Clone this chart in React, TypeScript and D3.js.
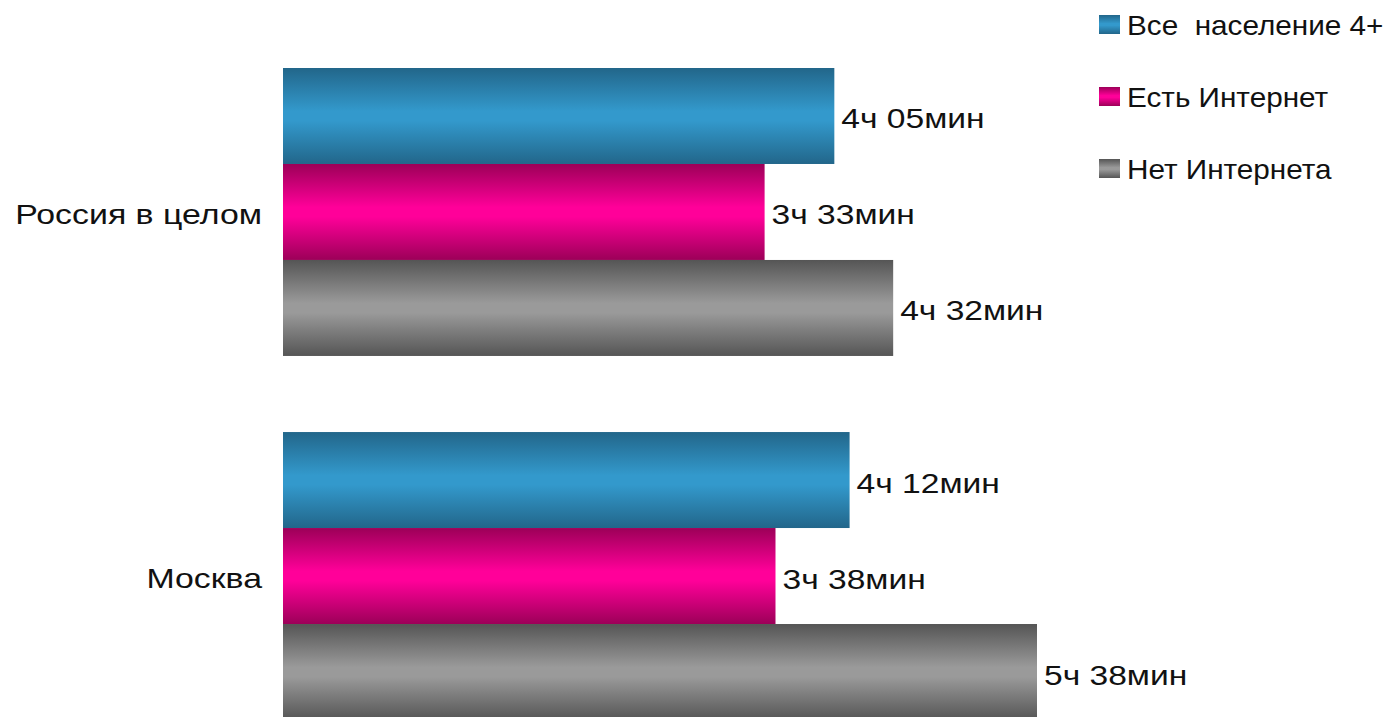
import React from "react";
import * as d3 from "d3";

const categories = ["Россия в целом", "Москва"];
const seriesNames = ["Все  население 4+", "Есть Интернет", "Нет Интернета"];
// minutes
const allPopulation = [245, 252];
const withInternet = [213, 218];
const noInternet = [272, 338];
const valueLabels = [
  ["4ч 05мин", "3ч 33мин", "4ч 32мин"],
  ["4ч 12мин", "3ч 38мин", "5ч 38мин"],
];
const axisDomain = [-8, 338];

const W = 1395;
const H = 717;
const colors = [
  { dark: "#22668a", light: "#3399cc" },
  { dark: "#9c0058", light: "#ff0099" },
  { dark: "#555555", light: "#9a9a9a" },
];

export default function App() {
  const series = [allPopulation, withInternet, noInternet];
  const x = d3.scaleLinear().domain(axisDomain).range([283, 1037]);
  const x0 = x.range()[0];
  const y0 = d3.scaleBand<string>().domain(categories).range([68, 720]).paddingInner(0.209).paddingOuter(0);
  const y1 = d3.scaleBand<string>().domain(seriesNames).range([0, y0.bandwidth()]);
  const font = "'Liberation Sans', Arial, sans-serif";
  const sx = (ax: number, k: number) => `translate(${ax},0) scale(${k},1) translate(${-ax},0)`;
  return (
    <svg width={W} height={H} style={{ position: "absolute", left: 0, top: 0, background: "#fff" }}>
      <defs>
        {colors.map((c, i) => (
          <linearGradient key={i} id={`g${i}`} x1="0" y1="0" x2="0" y2="1">
            <stop offset="0" stopColor={c.dark} />
            <stop offset="0.45" stopColor={c.light} />
            <stop offset="0.55" stopColor={c.light} />
            <stop offset="1" stopColor={c.dark} />
          </linearGradient>
        ))}
      </defs>
      {categories.map((cat, ci) => {
        const gy = y0(cat)!;
        return (
          <g key={cat}>
            <text
              x={262}
              y={gy + y0.bandwidth() / 2 + 3}
              textAnchor="end"
              dominantBaseline="central"
              fontFamily={font}
              fontSize={28}
              fill="#111"
              transform={sx(262, 1.21)}
            >
              {cat}
            </text>
            {seriesNames.map((s, si) => {
              const by = gy + y1(s)!;
              const v = series[si][ci];
              return (
                <g key={s}>
                  <rect x={x0} y={by} width={x(v) - x0} height={y1.bandwidth()} fill={`url(#g${si})`} />
                  <text
                    x={x(v) + 7}
                    y={by + y1.bandwidth() / 2 + 3}
                    dominantBaseline="central"
                    fontFamily={font}
                    fontSize={28}
                    fill="#111"
                    transform={sx(x(v) + 7, 1.2)}
                  >
                    {valueLabels[ci][si]}
                  </text>
                </g>
              );
            })}
          </g>
        );
      })}
      {seriesNames.map((s, si) => (
        <g key={s} transform={`translate(1099,${24 + si * 72})`}>
          <rect x={0} y={-9} width={21} height={19} fill={`url(#g${si})`} />
          <text
            x={28}
            y={1}
            dominantBaseline="central"
            fontFamily={font}
            fontSize={27}
            fill="#111"
            transform={sx(28, 1.1)}
            style={{ whiteSpace: "pre" }}
          >
            {s}
          </text>
        </g>
      ))}
    </svg>
  );
}
